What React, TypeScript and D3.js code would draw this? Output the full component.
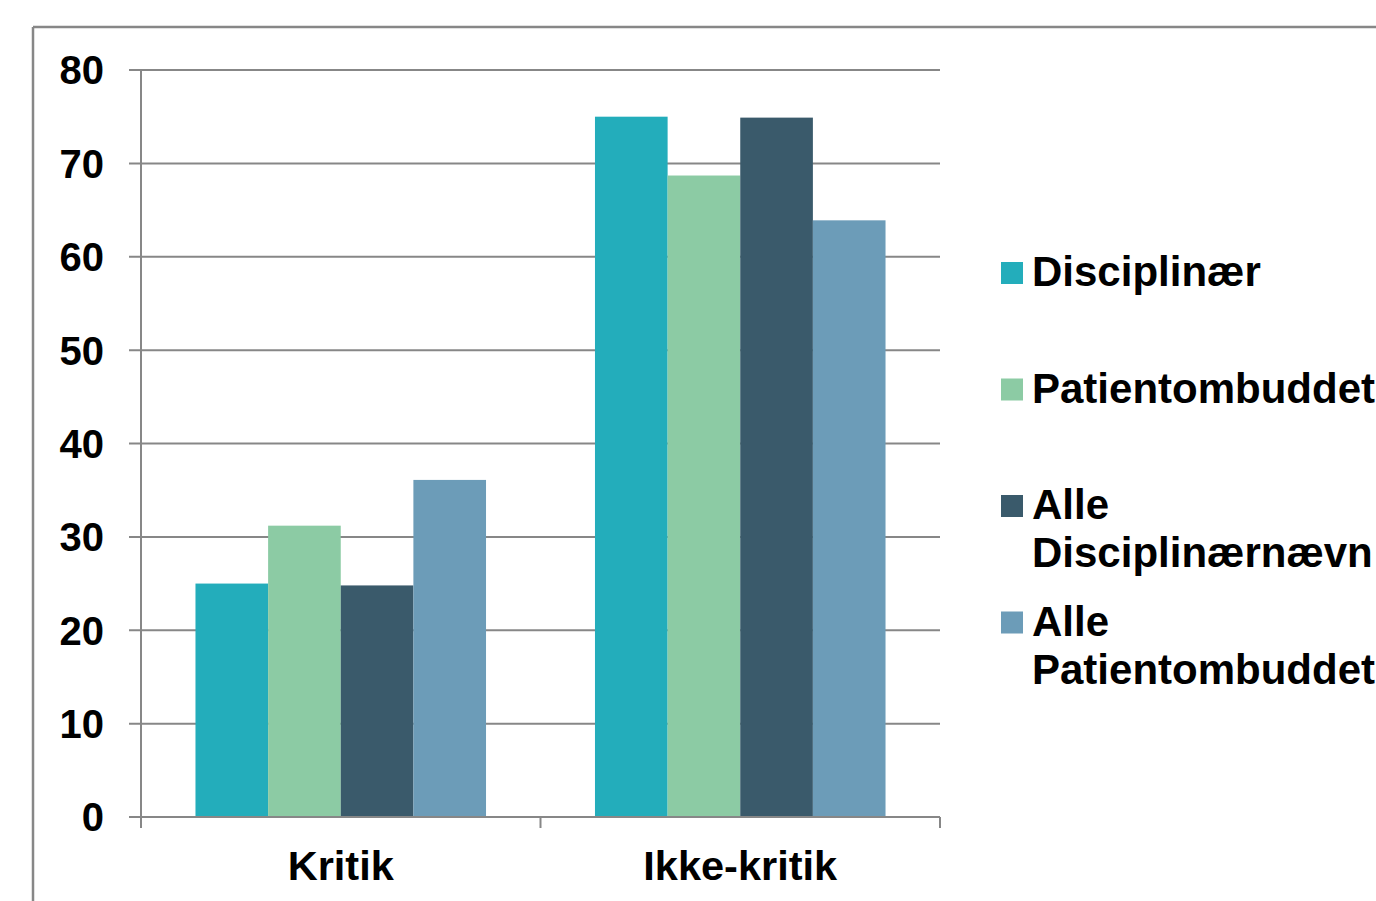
import React from 'react';
import * as d3 from 'd3';

const categories = ['Kritik', 'Ikke-kritik'];
const seriesNames = ['Disciplinær', 'Patientombuddet', 'Alle Disciplinærnævn', 'Alle Patientombuddet'];
const legendLines = [['Disciplinær'], ['Patientombuddet'], ['Alle', 'Disciplinærnævn'], ['Alle', 'Patientombuddet']];
const seriesColors = ['#23adbb', '#8ccba4', '#3a5a6b', '#6c9cb8'];
const disciplinaer = [25, 75];
const patientombuddet = [31.2, 68.7];
const alleDisciplinaernaevn = [24.8, 74.9];
const allePatientombuddet = [36.1, 63.9];
const yTicks = [0, 10, 20, 30, 40, 50, 60, 70, 80];

const seriesValues = [disciplinaer, patientombuddet, alleDisciplinaernaevn, allePatientombuddet];

const W = 1376;
const H = 901;
const plot = { left: 141, right: 940, top: 70, bottom: 817 };
const font = '"Liberation Sans", Arial, sans-serif';
const gray = '#878787';

export default function App() {
  const x = d3.scaleBand<string>().domain(categories).range([plot.left, plot.right]);
  // Excel style gap width 150%: bars take 4/(4+1.5) of the band
  const inner = x.bandwidth() * 4 / 5.5;
  const x1 = d3.scaleBand<string>().domain(seriesNames).range([0, inner]);
  const y = d3.scaleLinear().domain([0, 80]).range([plot.bottom, plot.top]);

  return (
    <div style={{ position: 'fixed', left: 0, top: 0 }}>
      <svg width={W} height={H} style={{ display: 'block', background: '#fff' }}>
        {/* chart frame */}
        <line x1={33} x2={W + 5} y1={27} y2={27} stroke={gray} strokeWidth={2.5} />
        <line x1={33} x2={33} y1={27} y2={H + 5} stroke={gray} strokeWidth={2.5} />

        {/* gridlines + y ticks */}
        {yTicks.map(t => (
          <g key={t}>
            <line x1={plot.left - 12} x2={plot.right} y1={y(t)} y2={y(t)} stroke={gray} strokeWidth={2} />
            <text x={104} y={y(t)} dy="0.36em" textAnchor="end" fontFamily={font}
              fontWeight="bold" fontSize={40} fill="#000">{t}</text>
          </g>
        ))}
        <line x1={plot.left} x2={plot.left} y1={plot.top} y2={plot.bottom + 10} stroke={gray} strokeWidth={2} />

        {/* bars */}
        {categories.map((c, ci) => {
          const x0 = (x(c) ?? 0) + (x.bandwidth() - inner) / 2;
          return seriesNames.map((s, si) => {
            const v = seriesValues[si][ci];
            return (
              <rect key={c + s} x={x0 + (x1(s) ?? 0)} y={y(v)} width={x1.bandwidth()}
                height={y(0) - y(v)} fill={seriesColors[si]} />
            );
          });
        })}

        {/* x axis */}
        <line x1={plot.left} x2={plot.right} y1={plot.bottom} y2={plot.bottom} stroke={gray} strokeWidth={2} />
        {[...categories.map(c => x(c) ?? 0), plot.right].map((px, i) => (
          <line key={i} x1={px} x2={px} y1={plot.bottom} y2={plot.bottom + 11} stroke={gray} strokeWidth={2} />
        ))}
        {categories.map(c => (
          <text key={c} x={(x(c) ?? 0) + x.bandwidth() / 2} y={880} textAnchor="middle"
            fontFamily={font} fontWeight="bold" fontSize={41.5} fill="#000">{c}</text>
        ))}

        {/* legend */}
        {legendLines.map((lines, i) => {
          const cy = 273 + i * 116.5;
          return (
            <g key={i}>
              <rect x={1001} y={cy - 11} width={22} height={22} fill={seriesColors[i]} />
              {lines.map((ln, li) => (
                <text key={li} x={1032} y={cy + 13 + li * 48} fontFamily={font} fontWeight="bold"
                  fontSize={42} fill="#000">{ln}</text>
              ))}
            </g>
          );
        })}
      </svg>
    </div>
  );
}
